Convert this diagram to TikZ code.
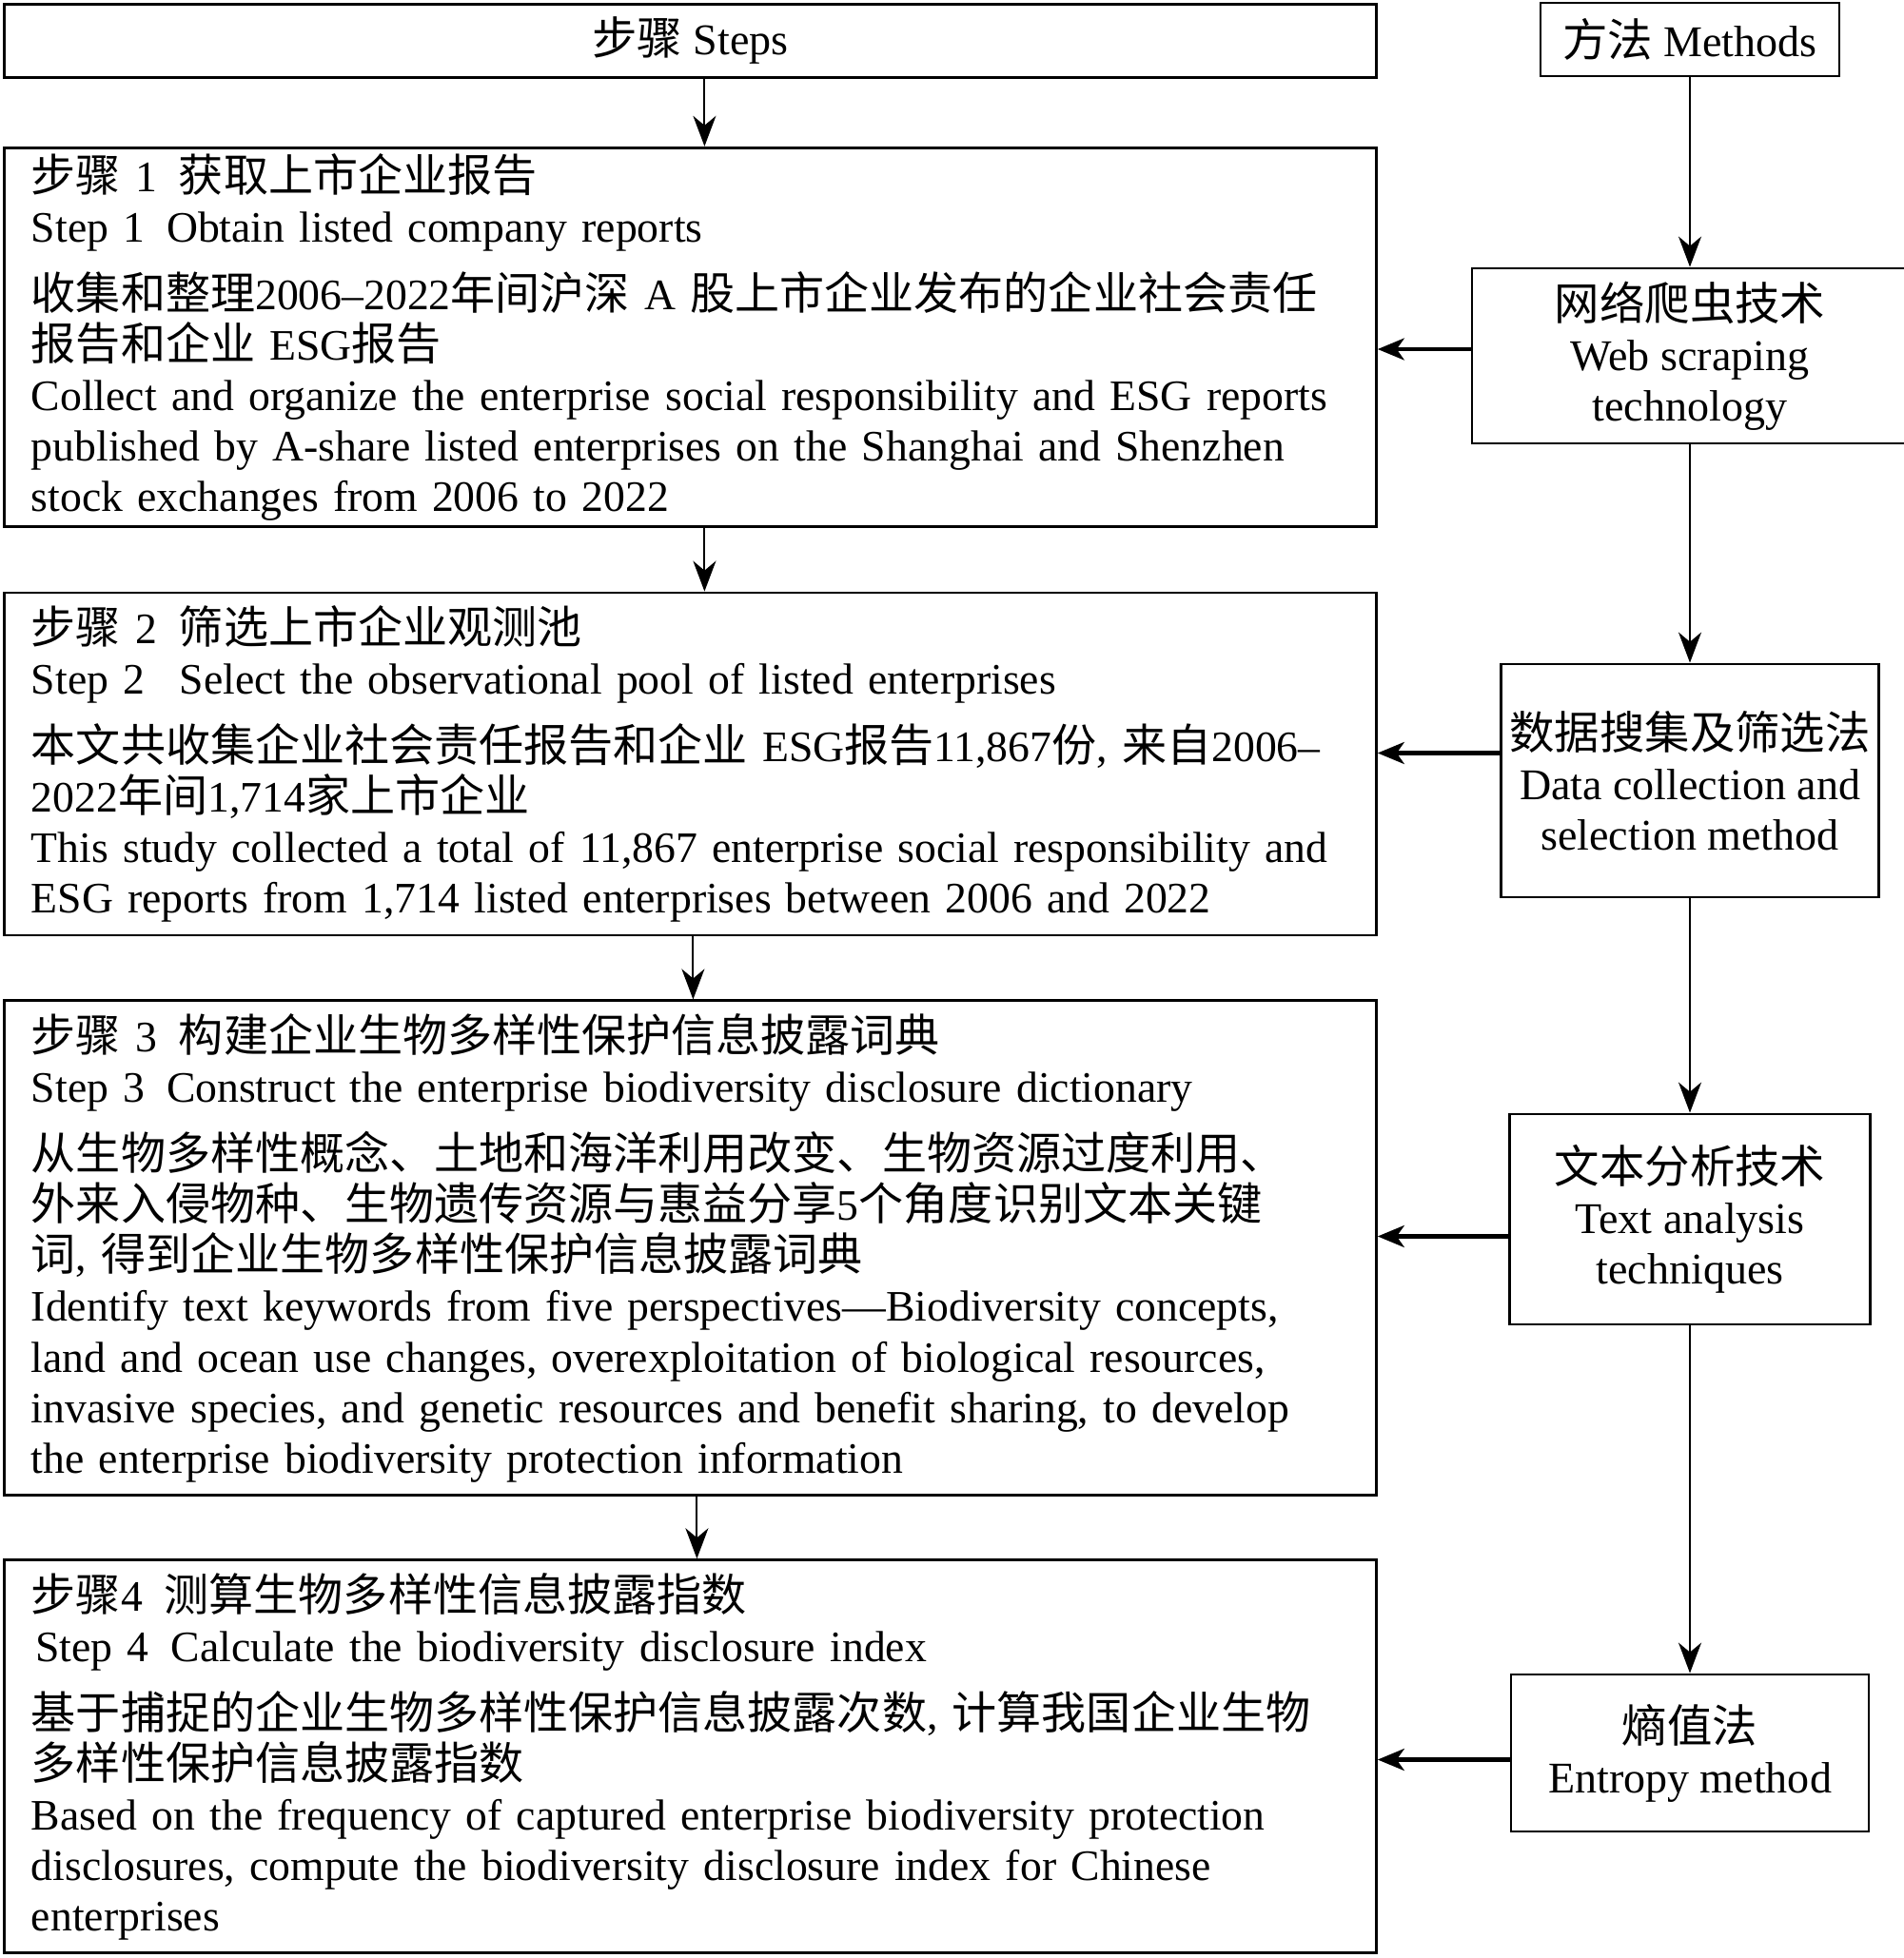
\documentclass[tikz,border=0pt]{standalone}
\usepackage{fontspec}
\setmainfont{Liberation Serif}
\newfontfamily\cjk{Noto Sans CJK SC}[Scale=1.03]
\usepackage{tikz}
\usetikzlibrary{arrows.meta, positioning}

\begin{document}
\begin{tikzpicture}[
    node distance=0.72cm,
    >=Stealth,
    % Styles
    headbox/.style={rectangle, draw=black, line width=0.8pt, minimum height=0.77cm, font=\fontsize{13.1}{15.1}\selectfont, align=center},
    stepbox/.style={rectangle, draw=black, line width=0.8pt, minimum width=14.42cm, minimum height=#1, text width=13.85cm, inner xsep=0.285cm, inner ysep=0.05cm, align=left, font=\fontsize{13}{15.1}\selectfont},
    methodbox/.style={rectangle, draw=black, line width=0.8pt, inner sep=0.05cm, align=center, font=\fontsize{13.1}{15.1}\selectfont},
    downarrow/.style={-{Stealth[length=0.32cm, width=0.24cm, inset=0.1cm]}, line width=0.6pt},
    leftarrow/.style={-{Stealth[length=0.28cm, width=0.23cm, inset=0.08cm]}, line width=1.2pt},
]
\useasboundingbox (0,0) rectangle (20,-20.58);

% === STEPS COLUMN ===
\node[headbox, minimum width=14.42cm, anchor=north west] (steps) at (0.03,-0.03) {{\cjk 步骤} Steps};

\node[stepbox=3.98cm, below=0.71cm of steps] (s1) {%
{\cjk 步骤} 1\enspace{\cjk 获取上市企业报告}\\
Step 1\enspace Obtain listed company reports\\[0.18cm]
{\cjk 收集和整理}2006–2022{\cjk 年间沪深} A {\cjk 股上市企业发布的企业社会责任}\\
{\cjk 报告和企业} ESG{\cjk 报告}\\
Collect and organize the enterprise social responsibility and ESG reports\\
published by A-share listed enterprises on the Shanghai and Shenzhen\\
stock exchanges from 2006 to 2022};

\node[stepbox=3.60cm, below=0.67cm of s1] (s2) {%
{\cjk 步骤} 2\enspace{\cjk 筛选上市企业观测池}\\
Step 2\hspace{0.8em}Select the observational pool of listed enterprises\\[0.18cm]
{\cjk 本文共收集企业社会责任报告和企业} ESG{\cjk 报告}11,867{\cjk 份}, {\cjk 来自}2006–\\
2022{\cjk 年间}1,714{\cjk 家上市企业}\\
This study collected a total of 11,867 enterprise social responsibility and\\
ESG reports from 1,714 listed enterprises between 2006 and 2022};

\node[stepbox=5.20cm, below=0.66cm of s2] (s3) {%
{\cjk 步骤} 3\enspace{\cjk 构建企业生物多样性保护信息披露词典}\\
Step 3\enspace Construct the enterprise biodiversity disclosure dictionary\\[0.18cm]
{\cjk 从生物多样性概念、土地和海洋利用改变、生物资源过度利用、}\\
{\cjk 外来入侵物种、生物遗传资源与惠益分享}5{\cjk 个角度识别文本关键}\\
{\cjk 词}, {\cjk 得到企业生物多样性保护信息披露词典}\\
Identify text keywords from five perspectives—Biodiversity concepts,\\
land and ocean use changes, overexploitation of biological resources,\\
invasive species, and genetic resources and benefit sharing, to develop\\
the enterprise biodiversity protection information};

\node[stepbox=4.13cm, below=0.65cm of s3] (s4) {%
{\cjk 步骤}4\enspace{\cjk 测算生物多样性信息披露指数}\\
\hspace{0.1em}Step 4\enspace Calculate the biodiversity disclosure index\\[0.18cm]
{\cjk 基于捕捉的企业生物多样性保护信息披露次数}, {\cjk 计算我国企业生物}\\
{\cjk 多样性保护信息披露指数}\\
Based on the frequency of captured enterprise biodiversity protection\\
disclosures, compute the biodiversity disclosure index for Chinese\\
enterprises};

% === METHODS COLUMN ===
\node[headbox, minimum width=3.14cm] (methods) at (17.76,-0.415) {{\cjk 方法} Methods};
\node[methodbox, minimum width=4.58cm, minimum height=1.84cm] (web) at (17.76,-3.74) {{\cjk 网络爬虫技术}\\Web scraping\\technology};
\node[methodbox, minimum width=3.97cm, minimum height=2.45cm] (data) at (17.76,-8.205) {{\cjk 数据搜集及筛选法}\\Data collection and\\selection method};
\node[methodbox, minimum width=3.79cm, minimum height=2.21cm] (text) at (17.76,-12.815) {{\cjk 文本分析技术}\\Text analysis\\techniques};
\node[methodbox, minimum width=3.76cm, minimum height=1.65cm] (entropy) at (17.76,-18.425) {{\cjk 熵值法}\\Entropy method};

% === DOWN ARROWS ===
\draw[downarrow] ([xshift=0.15cm]steps.south) -- ([xshift=0.15cm]s1.north);
\draw[downarrow] ([xshift=0.15cm]s1.south) -- ([xshift=0.15cm]s2.north);
\draw[downarrow] ([xshift=0.03cm]s2.south) -- ([xshift=0.03cm]s3.north);
\draw[downarrow] ([xshift=0.07cm]s3.south) -- ([xshift=0.07cm]s4.north);
\draw[downarrow] (methods) -- (web);
\draw[downarrow] (web) -- (data);
\draw[downarrow] (data) -- (text);
\draw[downarrow] (text) -- (entropy);

% === METHOD TO STEP ARROWS ===
\draw[leftarrow] ([yshift=0.07cm]web.west) -- ([yshift=0.07cm]web.west -| s1.east);
\draw[leftarrow] ([yshift=0.29cm]data.west) -- ([yshift=0.29cm]data.west -| s2.east);
\draw[leftarrow] ([yshift=-0.18cm]text.west) -- ([yshift=-0.18cm]text.west -| s3.east);
\draw[leftarrow] ([yshift=-0.07cm]entropy.west) -- ([yshift=-0.07cm]entropy.west -| s4.east);

\end{tikzpicture}
\end{document}
